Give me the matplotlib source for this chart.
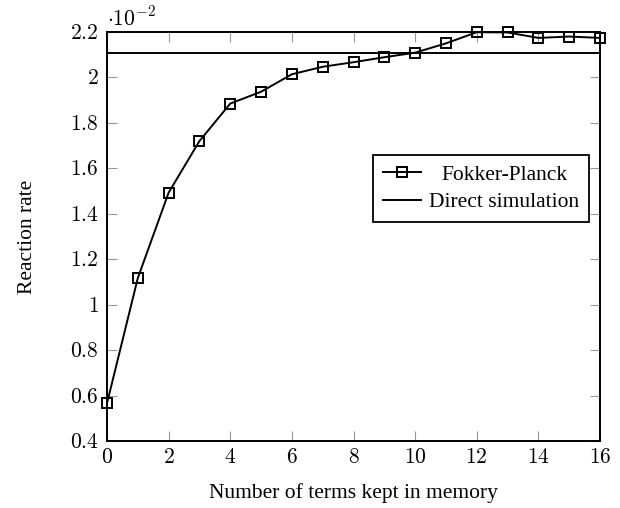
import matplotlib.pyplot as plt
from matplotlib.ticker import FuncFormatter

plt.rcParams['font.family'] = ['Liberation Serif', 'DejaVu Serif']
plt.rcParams['mathtext.fontset'] = 'cm'

# data (values in units of 1e-2)
terms = [0, 1, 2, 3, 4, 5, 6, 7, 8, 9, 10, 11, 12, 13, 14, 15, 16]
fokker_planck = [0.566, 1.117, 1.493, 1.72, 1.885, 1.937, 2.014, 2.047, 2.067,
                 2.089, 2.109, 2.15, 2.199, 2.198, 2.174, 2.18, 2.174]
direct_sim = 2.106

xticks = [0, 2, 4, 6, 8, 10, 12, 14, 16]
yticks = [0.4, 0.6, 0.8, 1.0, 1.2, 1.4, 1.6, 1.8, 2.0, 2.2]

fig = plt.figure(figsize=(6.2, 5.08), dpi=100)
ax = fig.add_axes([107 / 620, 1 - 441 / 508, 493 / 620, 409 / 508])

ax.plot(terms, fokker_planck, color='black', lw=1.4, marker='s', ms=7.5,
        mfc='none', mec='black', mew=1.4, label='Fokker-Planck', clip_on=False, zorder=3)
ax.axhline(direct_sim, color='black', lw=1.4, label='Direct simulation')

ax.set_xlim(0, 16)
ax.set_ylim(0.4, 2.2)
ax.set_xticks(xticks)
ax.set_yticks(yticks)
ax.xaxis.set_major_formatter(FuncFormatter(lambda v, p: r'$%g$' % v))
ax.yaxis.set_major_formatter(FuncFormatter(lambda v, p: r'$%g$' % round(v, 1)))
ax.tick_params(direction='in', length=7, width=0.8, color='#999999',
               top=True, right=True, labelsize=15.5, pad=6)
for s in ax.spines.values():
    s.set_linewidth(1.4)

ax.text(0.0, 1.004, r'$\cdot 10^{-2}$', transform=ax.transAxes, fontsize=15.5,
        ha='left', va='bottom')

ax.set_xlabel('Number of terms kept in memory', fontsize=15.5, va='center')
ax.xaxis.set_label_coords(0.5, (441 - 493) / 409)
ax.set_ylabel('Reaction rate', fontsize=15.5, va='center')
ax.yaxis.set_label_coords((28 - 107) / 493, 0.5)

leg = ax.legend(loc='upper right', bbox_to_anchor=(0.978, 0.699), borderaxespad=0,
                fancybox=False, edgecolor='black', framealpha=1, fontsize=15.5,
                handlelength=1.75, borderpad=0.45, labelspacing=0.33, handletextpad=0.4)
leg.get_frame().set_linewidth(1.3)
# centre the shorter label like the original legend
leg.get_texts()[0].set_x(12)

fig.savefig('out.png', dpi=100)
